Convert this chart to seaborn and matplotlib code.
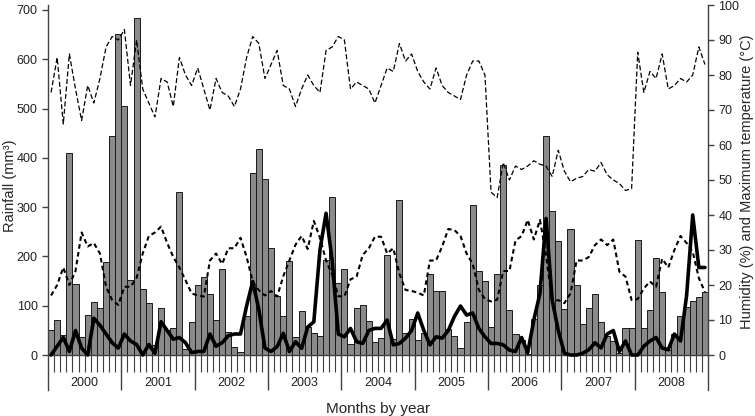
import numpy as np
import pandas as pd
import seaborn as sns
import matplotlib.pyplot as plt

years = [str(y) for y in range(2000, 2009)]

# monthly rainfall (mm), Jan..Dec for each year
rain_2000 = [51, 72, 41, 409, 144, 36, 81, 108, 95, 188, 444, 651]
rain_2001 = [505, 153, 683, 133, 105, 20, 95, 50, 55, 331, 12, 67]
rain_2002 = [141, 159, 123, 70, 174, 46, 17, 7, 80, 370, 418, 358]
rain_2003 = [218, 120, 79, 191, 36, 89, 57, 45, 39, 193, 321, 147]
rain_2004 = [174, 22, 95, 101, 68, 26, 34, 203, 32, 314, 45, 74]
rain_2005 = [30, 45, 164, 130, 130, 52, 38, 15, 66, 305, 170, 151]
rain_2006 = [57, 165, 385, 91, 43, 30, 3, 73, 141, 445, 293, 232]
rain_2007 = [93, 256, 141, 63, 95, 123, 66, 39, 28, 5, 54, 55]
rain_2008 = [233, 55, 92, 197, 127, 11, 42, 79, 97, 110, 118, 127]

# humidity (%)
hum_2000 = [75, 85, 66, 86, 76, 67, 77, 72, 79, 88, 91, 90]
hum_2001 = [93, 77, 90, 76, 72, 68, 79, 78, 71, 85, 80, 77]
hum_2002 = [82, 76, 70, 79, 75, 74, 71, 76, 85, 91, 89, 79]
hum_2003 = [83, 87, 77, 76, 71, 76, 80, 77, 75, 87, 88, 91]
hum_2004 = [90, 76, 78, 77, 76, 72, 77, 82, 81, 89, 84, 86]
hum_2005 = [81, 78, 76, 82, 77, 75, 74, 73, 80, 84, 84, 80]
hum_2006 = [46.5, 45, 55, 50, 54, 53, 54, 55.5, 54.5, 54, 51, 58.5]
hum_2007 = [52.5, 49.5, 50.5, 51, 53, 52.5, 55, 51.5, 50, 49, 47, 47.5]
hum_2008 = [86.5, 75, 81, 79, 86, 76, 77, 79, 78, 80, 88, 83]

# maximum temperature (°C)
tmax_2000 = [17, 20, 25, 20, 24, 35, 31, 32, 29, 19.5, 15.7, 14.3]
tmax_2001 = [19.5, 19.5, 22, 29, 34, 35, 36.7, 32, 28, 25, 21.4, 17.6]
tmax_2002 = [17, 16.7, 27, 29, 26, 30.5, 30.5, 33.5, 28, 21, 18.5, 17]
tmax_2003 = [18.3, 16.7, 22.5, 27, 31.5, 34, 30.3, 38.3, 33.5, 27, 23, 16.8]
tmax_2004 = [16.7, 21.6, 22.4, 28.6, 30.5, 33.8, 33.8, 29, 30.5, 23.3, 18.6, 18.3]
tmax_2005 = [17.8, 17, 27, 27, 31, 36, 35.7, 34, 29, 26, 18.6, 16]
tmax_2006 = [15.3, 15.8, 24, 24, 32.7, 34, 38.6, 33, 38.6, 28.5, 15.2, 15.7]
tmax_2007 = [14.8, 17.6, 27, 27, 28, 31.4, 33, 31.4, 33, 23.8, 22.4, 15.7]
tmax_2008 = [16, 19, 21, 19.5, 27.5, 25, 30, 34, 32, 29.5, 22, 18]

# solid thick series (right axis scale)
thick_2000 = [0, 2.5, 5, 1, 7, 2, 0, 10.5, 8.5, 6, 3.5, 2]
thick_2001 = [6, 4, 3, 0, 3, 0.5, 9.5, 7, 4.5, 5, 3.5, 0.7]
thick_2002 = [1, 1, 6, 2.5, 3.5, 5.5, 6, 6, 14, 21, 13, 2]
thick_2003 = [1, 2.4, 6.2, 1, 3.8, 1.9, 8, 9.5, 30, 40.5, 27, 6]
thick_2004 = [5.2, 7.6, 3.8, 3.3, 7, 7.6, 7.6, 10, 2.9, 3.3, 4.8, 7]
thick_2005 = [12, 7, 2.9, 5.2, 4.8, 7, 11, 14, 11.4, 12, 7.6, 5.2]
thick_2006 = [3.3, 3.3, 2.9, 1.4, 1, 5, 0.7, 10, 17.6, 39, 15.7, 7]
thick_2007 = [0.5, 0, 0, 0.5, 1.5, 3.5, 2, 6, 7, 1, 4, 0]
thick_2008 = [0, 2.5, 4, 5, 2, 1.5, 6, 4, 17, 40, 25, 25]

rainfall = (rain_2000 + rain_2001 + rain_2002 + rain_2003 + rain_2004
            + rain_2005 + rain_2006 + rain_2007 + rain_2008)
humidity = (hum_2000 + hum_2001 + hum_2002 + hum_2003 + hum_2004
            + hum_2005 + hum_2006 + hum_2007 + hum_2008)
max_temp = (tmax_2000 + tmax_2001 + tmax_2002 + tmax_2003 + tmax_2004
            + tmax_2005 + tmax_2006 + tmax_2007 + tmax_2008)
thick = (thick_2000 + thick_2001 + thick_2002 + thick_2003 + thick_2004
         + thick_2005 + thick_2006 + thick_2007 + thick_2008)

df = pd.DataFrame({
    "month": np.arange(len(rainfall)),
    "rain": rainfall,
    "humidity": humidity,
    "max_temp": max_temp,
    "thick": thick,
})
n = len(df)

sns.set_style("ticks")
plt.rcParams['font.family'] = ['Liberation Sans', 'DejaVu Sans']
axis_col = "#404040"

fig = plt.figure(figsize=(7.55, 4.16), dpi=100)
ax = fig.add_axes([48 / 755, 26 / 416, 660 / 755, 385 / 416])

sns.barplot(data=df, x="month", y="rain", native_scale=True, width=1,
            color="#8a8a8a", saturation=1, edgecolor="#1a1a1a",
            linewidth=0.7, errorbar=None, ax=ax)

ax.set_xlim(-0.5, n - 0.5)
ax.set_ylim(-71, 710)
ax.set_yticks(range(0, 701, 100))
for s in ["top", "right"]:
    ax.spines[s].set_visible(False)
ax.spines["bottom"].set_position(("data", 0))
for s in ["left", "bottom"]:
    ax.spines[s].set_color(axis_col)
    ax.spines[s].set_linewidth(1.0)

# year separators (major) and month ticks (minor) hanging below zero
year_edges = [12 * k - 0.5 for k in range(1, len(years))]
month_edges = [i + 0.5 for i in range(n - 1) if (i + 1) % 12 != 0]
ax.set_xticks(year_edges)
ax.set_xticks(month_edges, minor=True)
ax.tick_params(axis="x", which="major", length=25, width=1.0, color=axis_col,
               direction="out", labelbottom=False)
ax.tick_params(axis="x", which="minor", length=12.5, width=0.8, color=axis_col,
               direction="out")
ax.tick_params(axis="y", length=4, width=1.0, color=axis_col, labelsize=9,
               labelcolor="#222222")
for k, y in enumerate(years):
    ax.text(12 * k + 5.5, -57, y, ha="center", va="center", fontsize=9,
            color="#222222")

ax.set_ylabel("Rainfall (mm³)", fontsize=10.5)
ax.yaxis.set_label_coords(-0.047, 0.53)
ax.set_xlabel("Months by year", fontsize=11)
ax.xaxis.set_label_coords(0.5, -0.03)

ax2 = ax.twinx()
sns.lineplot(data=df, x="month", y="humidity", ax=ax2, color="black",
             linewidth=0.9, linestyle=(0, (4, 2)))
sns.lineplot(data=df, x="month", y="max_temp", ax=ax2, color="black",
             linewidth=1.5, linestyle=(0, (2.2, 1.6)))
sns.lineplot(data=df, x="month", y="thick", ax=ax2, color="black",
             linewidth=2.6)

ax2.set_xlim(-0.5, n - 0.5)
ax2.set_ylim(-10, 100)
ax2.set_yticks(range(0, 101, 10))
for s in ["top", "left", "bottom"]:
    ax2.spines[s].set_visible(False)
ax2.spines["right"].set_color(axis_col)
ax2.spines["right"].set_linewidth(1.0)
ax2.tick_params(axis="y", length=4, width=1.0, color=axis_col, labelsize=9,
                labelcolor="#222222")
ax2.set_ylabel("Humidity (%) and Maximum temperature (°C)", fontsize=10.5)
ax2.yaxis.set_label_coords(1.048, 0.54)

fig.savefig("out.png", dpi=100)
